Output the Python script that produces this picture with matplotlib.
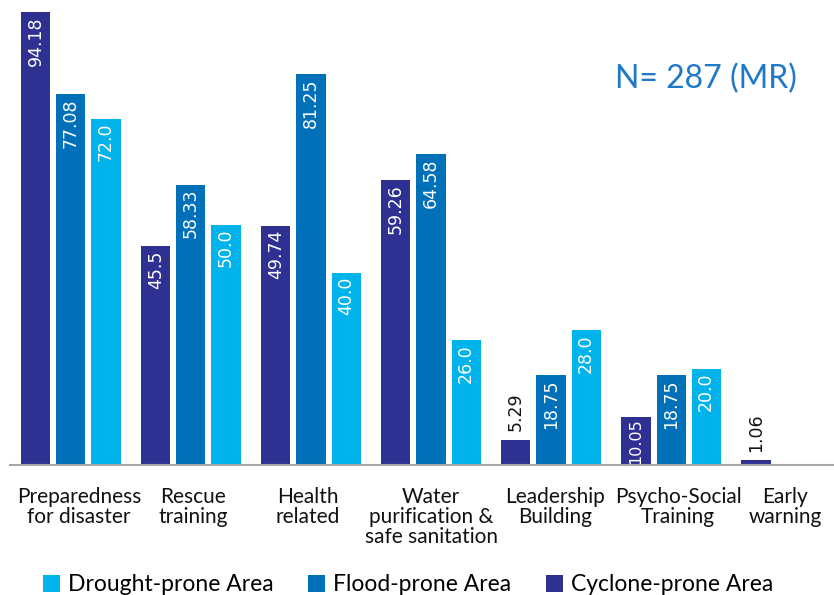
import numpy as np
import matplotlib.pyplot as plt
from matplotlib.transforms import ScaledTranslation

plt.rcParams['font.family'] = ['Lato', 'DejaVu Sans']

categories = ['Preparedness\nfor disaster', 'Rescue\ntraining', 'Health\nrelated',
              'Water\npurification &\nsafe sanitation', 'Leadership\nBuilding',
              'Psycho-Social\nTraining', 'Early\nwarning']
cyclone = [94.18, 45.5, 49.74, 59.26, 5.29, 10.05, 1.06]
flood = [77.08, 58.33, 81.25, 64.58, 18.75, 18.75, None]
drought = [72.0, 50.0, 40.0, 26.0, 28.0, 20.0, None]

c_cyc = '#2E3192'
c_fld = '#0070B8'
c_drt = '#00B3EA'

fig = plt.figure(figsize=(8.34, 5.95), dpi=100)
ax = fig.add_axes([10/834, 130/595, 824/834, 465/595])

x = np.arange(len(categories))
w = 0.242
off = 0.292

series = [(cyclone, -off, c_cyc, 'Cyclone-prone Area'),
          (flood, 0, c_fld, 'Flood-prone Area'),
          (drought, off, c_drt, 'Drought-prone Area')]
handles = {}
for vals, dx, col, name in series:
    xs = [xi + dx for xi, v in zip(x, vals) if v is not None]
    vs = [v for v in vals if v is not None]
    bars = ax.bar(xs, vs, width=w, color=col, label=name)
    handles[name] = bars
    for b, v in zip(bars, vs):
        txt = f'{v:.2f}' if round(v, 1) != v else f'{v:.1f}'
        cx = b.get_x() + b.get_width() / 2
        kw = dict(textcoords='offset points', rotation=90, ha='center', family='DejaVu Sans')
        if v < 8:
            # too short: label above the bar
            ax.annotate(txt, (cx, v), xytext=(0, 6), va='bottom', color='#111111',
                        fontsize=12.5, **kw)
        elif v < 12:
            # short bar: squeeze the label inside
            ax.annotate(txt, (cx, v / 2), xytext=(0, 0), va='center', color='white',
                        fontsize=11.5, **kw)
        else:
            ax.annotate(txt, (cx, v), xytext=(0, -3), va='top', color='white',
                        fontsize=12.5, **kw)

ax.set_xlim(-0.508, 6.358)
ax.set_ylim(0, 96.7)
ax.set_yticks([])
ax.set_xticks(x)
ax.set_xticklabels(categories, fontsize=15, linespacing=1.0, color='#111111')
ax.tick_params(axis='x', length=0, pad=16)
# small horizontal nudges of the category labels (pixels)
nudges = [8, 2, -3, 0, 4, 7, -6]
for lab, dxp in zip(ax.get_xticklabels(), nudges):
    lab.set_transform(lab.get_transform() + ScaledTranslation(dxp / 100, 0, fig.dpi_scale_trans))
for s in ['top', 'right', 'left']:
    ax.spines[s].set_visible(False)
ax.spines['bottom'].set_color('#A6A6A6')
ax.spines['bottom'].set_linewidth(1.5)

ax.text(0.955, 0.83, 'N= 287 (MR)', transform=ax.transAxes, ha='right', va='center',
        fontsize=23, color='#1F78C8')

order = ['Drought-prone Area', 'Flood-prone Area', 'Cyclone-prone Area']
fig.legend([handles[n] for n in order], order, loc='lower center', ncol=3,
           bbox_to_anchor=(0.489, -0.035), frameon=False, fontsize=16.5,
           handlelength=0.75, handleheight=0.75, handletextpad=0.35, columnspacing=1.5)

fig.savefig('out.png', dpi=100)
